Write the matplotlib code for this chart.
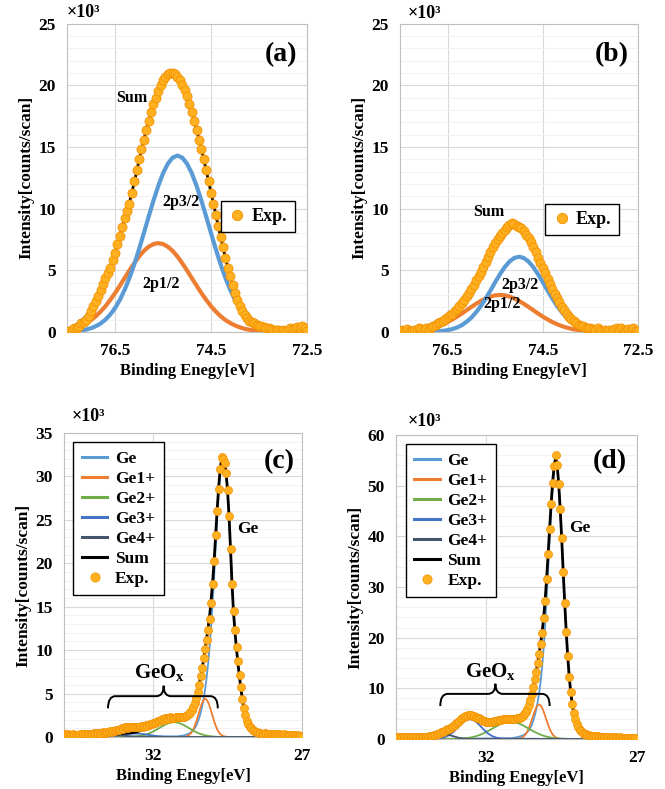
import numpy as np
import matplotlib
matplotlib.use("Agg")
import matplotlib.pyplot as plt
from matplotlib.path import Path
from matplotlib.patches import PathPatch

plt.rcParams['font.family'] = ['Liberation Serif', 'DejaVu Serif']
plt.rcParams['font.weight'] = 'bold'
plt.rcParams['mathtext.fontset'] = 'custom'
plt.rcParams['mathtext.rm'] = 'Liberation Serif:bold'
plt.rcParams['mathtext.it'] = 'Liberation Serif:bold'
plt.rcParams['mathtext.bf'] = 'Liberation Serif:bold'

C_BLUE = '#5B9BD5'
C_ORANGE = '#ED7D31'
C_GREEN = '#70AD47'
C_GE3 = '#4472C4'
C_GE4 = '#44546A'
EXP_FACE = '#FFB020'
EXP_EDGE = '#F29100'

# ---------------------------------------------------------------
# (a) / (b): 2p region, Exp on 77.45 -> 72.50 eV (0.05 eV step), fits on 0.1 eV grid
# ---------------------------------------------------------------
exp_a = [0.1, 0.2, 0.3, 0.35, 0.5, 0.7, 0.85, 1.0, 1.3, 1.7,
         2.1, 2.5, 2.9, 3.4, 3.9, 4.4, 4.8, 5.2, 5.8, 6.4,
         7.1, 7.8, 8.5, 9.2, 9.8, 10.4, 11.3, 12.2, 13.1, 14.0,
         14.8, 15.6, 16.4, 17.1, 17.8, 18.5, 19.0, 19.5, 20.0, 20.4,
         20.7, 20.9, 21.0, 21.0, 20.9, 20.7, 20.4, 20.0, 19.6, 19.1,
         18.5, 17.8, 17.1, 16.4, 15.6, 14.8, 14.0, 13.1, 12.2, 11.3,
         10.4, 9.5, 8.6, 7.7, 6.9, 6.0, 5.2, 4.5, 3.8, 3.2,
         2.6, 2.1, 1.7, 1.4, 1.1, 0.9, 0.8, 0.7, 0.6, 0.5,
         0.45, 0.4, 0.35, 0.3, 0.25, 0.2, 0.2, 0.15, 0.1, 0.15,
         0.1, 0.2, 0.3, 0.25, 0.35, 0.4, 0.3, 0.45, 0.3, 0.05]
p32_a = [0.05, 0.08, 0.13, 0.20, 0.31, 0.47, 0.69, 1.00, 1.41, 1.94,
         2.60, 3.42, 4.38, 5.48, 6.71, 8.01, 9.34, 10.64, 11.83, 12.86,
         13.64, 14.13, 14.30, 14.13, 13.64, 12.86, 11.83, 10.64, 9.34, 8.01,
         6.71, 5.48, 4.38, 3.42, 2.60, 1.94, 1.41, 1.00, 0.69, 0.47,
         0.31, 0.20, 0.13, 0.08, 0.05, 0.03]
p12_a = [0.26, 0.38, 0.53, 0.73, 0.97, 1.28, 1.66, 2.09, 2.60, 3.15,
         3.75, 4.37, 4.99, 5.58, 6.12, 6.57, 6.91, 7.13, 7.20, 7.13,
         6.91, 6.57, 6.12, 5.58, 4.99, 4.37, 3.75, 3.15, 2.60, 2.09,
         1.66, 1.28, 0.97, 0.73, 0.53, 0.38, 0.26, 0.18, 0.12, 0.08,
         0.05, 0.03, 0.02, 0.01, 0.01, 0.00]
sum_a = [0.35, 0.6, 0.9, 1.3, 1.8, 2.5, 3.4, 4.4, 5.3, 6.4,
         7.8, 9.2, 10.5, 12.1, 13.9, 15.6, 17.1, 18.4, 19.5, 20.3,
         20.8, 20.9, 20.6, 19.9, 19.0, 17.8, 16.4, 14.8, 13.1, 11.3,
         9.5, 7.7, 6.0, 4.5, 3.2, 2.2, 1.5, 1.0, 0.65, 0.4,
         0.25, 0.15, 0.1, 0.05, 0.03, 0.02]

exp_b = [0.2, 0.1, 0.25, 0.1, 0.05, 0.2, 0.15, 0.3, 0.25, 0.2,
         0.35, 0.2, 0.4, 0.5, 0.55, 0.7, 0.8, 0.9, 1.05, 1.2,
         1.35, 1.5, 1.7, 1.9, 2.1, 2.35, 2.6, 2.9, 3.2, 3.5,
         3.85, 4.2, 4.55, 4.9, 5.3, 5.7, 6.1, 6.5, 6.9, 7.2,
         7.55, 7.8, 8.05, 8.3, 8.5, 8.7, 8.8, 8.75, 8.6, 8.5,
         8.4, 8.2, 7.9, 7.6, 7.3, 6.9, 6.5, 6.0, 5.6, 5.2,
         4.75, 4.3, 3.9, 3.5, 3.1, 2.75, 2.4, 2.05, 1.75, 1.5,
         1.25, 1.05, 0.9, 0.75, 0.6, 0.5, 0.45, 0.35, 0.3, 0.35,
         0.25, 0.2, 0.3, 0.15, 0.1, 0.2, 0.05, 0.15, 0.1, 0.25,
         0.3, 0.15, 0.3, 0.2, 0.1, 0.25, 0.2, 0.3, 0.1, 0.05]
p32_b = [0.01, 0.02, 0.03, 0.05, 0.09, 0.15, 0.24, 0.37, 0.56, 0.83,
         1.17, 1.60, 2.12, 2.71, 3.36, 4.04, 4.68, 5.26, 5.71, 6.00,
         6.10,
         6.00, 5.71, 5.26, 4.68, 4.04, 3.36, 2.71, 2.12, 1.60, 1.17,
         0.83, 0.56, 0.37, 0.24, 0.15, 0.09, 0.05, 0.03, 0.02, 0.01]
p12_b = [0.19, 0.26, 0.36, 0.48, 0.63, 0.81, 1.02, 1.25, 1.50, 1.77,
         2.03, 2.29, 2.52, 2.72, 2.87, 2.97, 3.00, 2.97, 2.87, 2.72,
         2.52,
         2.29, 2.03, 1.77, 1.50, 1.25, 1.02, 0.81, 0.63, 0.48, 0.36,
         0.26, 0.19, 0.13, 0.09, 0.06, 0.04, 0.03, 0.02, 0.01, 0.01]
sum_b = [0.20, 0.28, 0.39, 0.53, 0.72, 0.96, 1.26, 1.62, 2.06, 2.60,
         3.20, 3.89, 4.64, 5.43, 6.23, 7.01, 7.68, 8.23, 8.58, 8.72,
         8.62,
         8.29, 7.74, 7.03, 6.18, 5.29, 4.38, 3.52, 2.75, 2.08, 1.53,
         1.09, 0.75, 0.50, 0.33, 0.21, 0.13, 0.08, 0.05, 0.03, 0.02]

# ---------------------------------------------------------------
# (c) / (d): 3d region, Exp on 35.00 -> 27.00 eV (0.05 eV step)
# ---------------------------------------------------------------
exp_c = [0.30, 0.35, 0.25, 0.30, 0.20, 0.25, 0.30, 0.20, 0.15, 0.25,
         0.20, 0.30, 0.25, 0.35, 0.30, 0.40, 0.35, 0.30, 0.40, 0.35,
         0.45, 0.40, 0.50, 0.45, 0.40, 0.50, 0.55, 0.45, 0.50, 0.60,
         0.55, 0.65, 0.60, 0.70, 0.65,
         0.75, 0.85, 0.80, 0.95, 1.00, 0.95, 1.10, 1.15, 1.05, 1.15,
         1.10, 1.20, 1.10, 1.15, 1.10, 1.20, 1.15, 1.25, 1.20, 1.30,
         1.35, 1.30, 1.40, 1.50, 1.45, 1.60,
         1.65, 1.75, 1.80, 1.90, 1.95, 2.05, 2.00, 2.15, 2.20, 2.10, 2.25, 2.20,
         2.15, 2.20, 2.25, 2.25, 2.30, 2.30, 2.30,
         2.30, 2.35, 2.40, 2.50, 2.65, 2.85, 3.10, 3.45, 3.90, 4.50,
         5.20, 6.00, 7.00, 8.00, 9.10, 10.1, 11.2, 12.3, 13.6, 15.4,
         17.6, 20.3, 23.2, 26.0, 28.6, 30.8, 32.2,
         32.0, 31.6, 30.4, 28.4, 25.4, 21.6, 17.6, 14.5, 12.3, 10.4,
         8.7, 7.1, 5.7, 4.4, 3.3, 2.5, 1.9, 1.5, 1.2, 1.0,
         0.85, 0.70, 0.60, 0.55,
         0.45, 0.50, 0.40, 0.35, 0.45, 0.30, 0.40, 0.35, 0.25, 0.35,
         0.30, 0.20, 0.30, 0.25, 0.35, 0.20, 0.25, 0.30, 0.20, 0.15,
         0.25, 0.20, 0.15, 0.25, 0.20, 0.10, 0.20, 0.15, 0.10, 0.05]
ge_c = [0.08, 0.10, 0.12, 0.14, 0.17, 0.21, 0.26, 0.32, 0.40, 0.50,
        0.64, 0.82, 1.05, 1.35, 1.75, 2.25, 2.85, 3.6, 4.5, 5.6,
        7.0, 8.6, 10.5, 12.9, 15.5,
        18.6, 22.0, 25.3, 28.2, 30.4, 31.8, 31.8, 31.4, 30.3, 28.3,
        25.3, 21.5, 17.5, 14.3, 12.0, 10.1, 8.4, 6.9, 5.5, 4.3,
        3.2, 2.4, 1.8, 1.35, 1.0, 0.75, 0.55, 0.40, 0.30, 0.22,
        0.16, 0.12, 0.09, 0.06]
ge1_c = [0.01, 0.03, 0.06, 0.12, 0.21, 0.36, 0.58, 0.89, 1.29, 1.79,
         2.36, 2.95, 3.51, 3.98, 4.29, 4.40, 4.29, 3.98, 3.51, 2.95,
         2.36, 1.79, 1.29, 0.89, 0.58, 0.36, 0.21, 0.12, 0.06, 0.03, 0.01]
ge2_c = [0.0, 0.01, 0.02, 0.03, 0.06, 0.10, 0.15, 0.23, 0.34, 0.47,
         0.64, 0.83, 1.03, 1.23, 1.42, 1.57, 1.67, 1.70, 1.67, 1.57,
         1.42, 1.23, 1.03, 0.83, 0.64, 0.47, 0.34, 0.23, 0.15, 0.10,
         0.06, 0.03, 0.02, 0.01]
ge3_c = [0.01, 0.02, 0.03, 0.05, 0.08, 0.12, 0.16, 0.22, 0.27, 0.32,
         0.36, 0.39, 0.40, 0.39, 0.36, 0.32, 0.27, 0.22, 0.16, 0.12,
         0.08, 0.05, 0.03, 0.02, 0.01]
ge4_c = [0.01, 0.02, 0.03, 0.04, 0.065, 0.09, 0.12, 0.15, 0.18, 0.19,
         0.20, 0.19, 0.18, 0.15, 0.12, 0.09, 0.065, 0.04, 0.03, 0.02, 0.01]
sum_c = [0.01, 0.01, 0.02, 0.02, 0.03, 0.03, 0.04, 0.05, 0.07, 0.09,
         0.10, 0.12, 0.14, 0.17, 0.18, 0.20, 0.23, 0.26, 0.27, 0.30,
         0.32, 0.34, 0.35, 0.38, 0.40, 0.40, 0.42, 0.45, 0.45, 0.46,
         0.47, 0.49, 0.50, 0.52,
         0.55, 0.60, 0.66, 0.72, 0.78, 0.85, 0.92, 1.00, 1.08, 1.16,
         1.24, 1.33, 1.42,
         1.50, 1.58, 1.66, 1.73, 1.80, 1.86, 1.91, 1.96, 2.00, 2.03,
         2.06, 2.08, 2.10, 2.12, 2.14, 2.16, 2.18, 2.20, 2.22, 2.25,
         2.29, 2.35, 2.45, 2.60, 2.82, 3.10, 3.47, 3.95, 4.55, 5.25,
         6.05, 6.95, 7.95, 9.05,
         10.19, 11.44, 12.70, 14.11, 15.92, 17.92, 20.43, 23.32, 26.22, 28.80,
         30.77, 32.02, 31.92, 31.46, 30.33, 28.31, 25.3, 21.5, 17.5, 14.3,
         12.0, 10.1, 8.4, 6.9, 5.5, 4.3, 3.2, 2.4, 1.8, 1.35,
         1.0, 0.75, 0.55, 0.40, 0.30, 0.22, 0.16, 0.12, 0.09, 0.06]

exp_d = [0.30, 0.35, 0.30, 0.25, 0.35, 0.30, 0.40, 0.30, 0.35, 0.25,
         0.30, 0.40, 0.35, 0.30, 0.40, 0.35, 0.45, 0.40, 0.35, 0.45,
         0.40, 0.45, 0.50, 0.55, 0.65, 0.75, 0.85, 0.95, 1.05, 1.20,
         1.30, 1.45, 1.60, 1.75, 1.90, 2.05, 2.20, 2.40, 2.60, 2.85,
         3.10, 3.35, 3.60, 3.85, 4.10, 4.30, 4.45, 4.60, 4.65, 4.70,
         4.65, 4.60, 4.50, 4.35, 4.20, 4.05, 3.90, 3.75, 3.60, 3.50,
         3.40, 3.35, 3.30, 3.35, 3.40, 3.45, 3.50, 3.60, 3.65, 3.70,
         3.80, 3.85, 3.90, 3.95, 3.95, 4.00, 4.00, 3.95, 4.00, 4.00,
         4.05, 4.10, 4.20, 4.35, 4.60, 4.95, 5.40, 6.00, 6.80, 7.70,
         8.80,
         10.2, 11.8, 13.3, 15.0, 16.8, 18.8, 21.0, 23.8, 27.3, 31.6,
         36.5, 41.5, 46.3, 50.6, 53.9, 56.0, 54.0, 50.4, 45.4, 39.6,
         33.0, 26.8, 21.2, 16.3, 12.3, 9.2, 6.9, 5.2, 3.9, 3.0,
         2.3, 1.8, 1.5, 1.25, 1.05, 0.9, 0.8, 0.7, 0.65, 0.6,
         0.5, 0.55, 0.45, 0.5, 0.4, 0.45, 0.35, 0.4, 0.3, 0.35,
         0.3, 0.25, 0.35, 0.3, 0.25, 0.3, 0.2, 0.25, 0.3, 0.2,
         0.25, 0.2, 0.15, 0.25, 0.2, 0.15, 0.2, 0.1, 0.15, 0.05]
ge_d = [0.15, 0.18, 0.22, 0.27, 0.33, 0.40, 0.48, 0.58, 0.70, 0.85,
        1.05, 1.30, 1.65, 2.1, 2.7, 3.5, 4.5, 5.7, 7.2, 9.0,
        11.3, 14.2, 17.8, 22.3, 27.6,
        33.4, 39.3, 44.8, 49.6, 53.2, 55.0, 53.7, 50.2, 45.3, 39.5,
        33.0, 26.8, 21.2, 16.3, 12.3, 9.2, 6.9, 5.2, 3.9, 2.9,
        2.2, 1.65, 1.25, 0.95, 0.72, 0.55, 0.42, 0.32, 0.24, 0.18,
        0.14, 0.10, 0.07, 0.05]
ge1_d = [0.02, 0.05, 0.10, 0.19, 0.33, 0.56, 0.90, 1.37, 2.00, 2.77,
         3.64, 4.56, 5.43, 6.15, 6.63, 6.80, 6.63, 6.15, 5.43, 4.56,
         3.64, 2.77, 2.00, 1.37, 0.90, 0.56, 0.33, 0.19, 0.10, 0.05, 0.02]
ge2_d = [0.0, 0.01, 0.01, 0.02, 0.04, 0.06, 0.10, 0.15, 0.22, 0.33,
         0.46, 0.63, 0.85, 1.11, 1.40, 1.72, 2.06, 2.40, 2.72, 3.00,
         3.22, 3.35, 3.40, 3.35, 3.22, 3.00, 2.72, 2.40, 2.06, 1.72,
         1.40, 1.11, 0.85, 0.63, 0.46, 0.33, 0.22, 0.15, 0.10, 0.06,
         0.04, 0.02, 0.01]
ge3_d = [0.06, 0.12, 0.24, 0.43, 0.71, 1.12, 1.64, 2.24, 2.86, 3.40,
         3.77, 3.90, 3.77, 3.40, 2.86, 2.24, 1.64, 1.12, 0.71, 0.43,
         0.24, 0.12, 0.06]
ge4_d = [0.01, 0.03, 0.06, 0.12, 0.22, 0.37, 0.55, 0.72, 0.85, 0.90,
         0.85, 0.72, 0.55, 0.37, 0.22, 0.12, 0.06, 0.03, 0.01]
sum_d = [0.01, 0.02, 0.03, 0.04, 0.06, 0.09, 0.12, 0.17, 0.23, 0.31,
         0.40, 0.52, 0.65, 0.80,
         0.88, 0.98, 1.08, 1.20, 1.33, 1.48, 1.63, 1.79, 1.95, 2.13,
         2.33, 2.56, 2.81, 3.07, 3.33, 3.58, 3.82, 4.03, 4.20, 4.32,
         4.39, 4.42, 4.40, 4.34, 4.24, 4.11, 3.96, 3.81, 3.66, 3.51,
         3.38, 3.26, 3.16, 3.09, 3.06, 3.07, 3.12, 3.18, 3.25, 3.32,
         3.39, 3.46, 3.53, 3.60, 3.66, 3.71, 3.74, 3.76, 3.77, 3.77,
         3.77, 3.78, 3.81, 3.86, 3.95, 4.10, 4.35, 4.70, 5.15, 5.75,
         6.55, 7.50, 8.60, 9.95,
         11.33, 13.10, 14.94, 16.78, 18.78, 21.09, 23.86, 27.40, 31.70, 36.56,
         41.63, 46.44, 50.72, 53.94,
         55.48, 54.01, 50.40, 45.43, 39.58, 33.05, 26.84, 21.23, 16.32, 12.31,
         9.21, 6.9, 5.2, 3.9, 2.9, 2.2, 1.65, 1.25, 0.95, 0.72,
         0.55, 0.42, 0.32, 0.24, 0.18, 0.14, 0.10, 0.07, 0.05]

FIT_C = (34.3, 28.3)  # fit window of the 3d spectra (components are 0 outside)


def grid(start, stop, vals):
    return np.linspace(start, stop, len(vals))


def padded(start, stop, vals, lo, hi):
    x = np.r_[lo, grid(start, stop, vals), hi]
    y = np.r_[0.0, vals, 0.0]
    return x, y


def style(ax, xlim, xticks, ymax, ystep, yminor):
    ax.set_xlim(*xlim)
    ax.set_ylim(0, ymax)
    ax.set_xticks(xticks)
    ax.set_yticks(np.arange(0, ymax + 0.01, ystep))
    ax.set_yticks(np.arange(0, ymax + 0.01, yminor), minor=True)
    ax.grid(True, which='major', color='#D9D9D9', lw=0.8)
    ax.grid(True, which='minor', axis='y', color='#F0F0F0', lw=0.6)
    ax.set_axisbelow(True)
    for s in ax.spines.values():
        s.set_color('#BFBFBF')
        s.set_linewidth(0.8)
    ax.tick_params(which='both', length=0, labelsize=12.5, pad=8)
    for lab in ax.get_xticklabels() + ax.get_yticklabels():
        lab.set_fontweight('bold')
    ax.set_xlabel('Binding Enegy[eV]', fontsize=12, fontweight='bold', labelpad=3)
    ax.set_ylabel('Intensity[counts/scan]', fontsize=12.5, fontweight='bold', labelpad=3)


def brace(ax, xl, xr, xt, y_bar, y_end, y_tip, r):
    verts = [(xl, y_end), (xl, y_bar), (xl - r, y_bar),
             (xt + r, y_bar), (xt, y_bar), (xt, y_tip),
             (xt, y_bar), (xt - r, y_bar),
             (xr + r, y_bar), (xr, y_bar), (xr, y_end)]
    codes = [Path.MOVETO, Path.CURVE3, Path.CURVE3,
             Path.LINETO, Path.CURVE3, Path.CURVE3,
             Path.CURVE3, Path.CURVE3,
             Path.LINETO, Path.CURVE3, Path.CURVE3]
    ax.add_patch(PathPatch(Path(verts, codes), fill=False, lw=1.4,
                           edgecolor='black', zorder=5))


fig = plt.figure(figsize=(6.65, 7.89), dpi=100)
ax_a = fig.add_axes([0.1008, 0.5792, 0.3609, 0.3910])
ax_b = fig.add_axes([0.6015, 0.5792, 0.3579, 0.3910])
ax_c = fig.add_axes([0.0962, 0.0659, 0.3579, 0.3853])
ax_d = fig.add_axes([0.5955, 0.0634, 0.3624, 0.3853])

# ---- (a) and (b)
for ax, exp, p32, p12, sm, fit_rng, lbl in [
        (ax_a, exp_a, p32_a, p12_a, sum_a, (77.4, 72.9), '(a)'),
        (ax_b, exp_b, p32_b, p12_b, sum_b, (77.0, 73.0), '(b)')]:
    xf = grid(*fit_rng, p32)
    ax.plot(xf, p12, color=C_ORANGE, lw=3, zorder=2)
    ax.plot(xf, p32, color=C_BLUE, lw=3, zorder=2)
    ax.plot(xf, sm, color='black', lw=2, zorder=3)
    ax.plot(grid(77.45, 72.5, exp), exp, 'o', ms=6.5, mfc=EXP_FACE, mec=EXP_EDGE,
            mew=0.6, zorder=4, label='Exp.')
    style(ax, (77.5, 72.5), [76.5, 74.5, 72.5], 25, 5, 1)
    ax.text(0.89, 0.90, lbl, transform=ax.transAxes, fontsize=20, fontweight='bold',
            ha='center', va='center')

ax_a.text(0.0, 1.037, '×10³', transform=ax_a.transAxes, fontsize=13, ha='left', va='center')
ax_b.text(0.034, 1.033, '×10³', transform=ax_b.transAxes, fontsize=13, ha='left', va='center')

ax_a.legend(loc='center', bbox_to_anchor=(0.795, 0.374), fontsize=13, fancybox=False,
            edgecolor='black', framealpha=1, handletextpad=0.3, borderpad=0.4,
            handlelength=1.0, markerscale=1.15).get_frame().set_linewidth(1.0)
ax_b.legend(loc='center', bbox_to_anchor=(0.765, 0.365), fontsize=13, fancybox=False,
            edgecolor='black', framealpha=1, handletextpad=0.3, borderpad=0.4,
            handlelength=1.0, markerscale=1.15).get_frame().set_linewidth(1.0)

ax_a.text(76.15, 19.0, 'Sum', fontsize=11.5, ha='center', va='center')
ax_a.text(75.13, 10.5, '2p3/2', fontsize=11.5, ha='center', va='center')
ax_a.text(75.55, 3.9, '2p1/2', fontsize=11.5, ha='center', va='center')
ax_b.text(75.64, 9.7, 'Sum', fontsize=11.5, ha='center', va='center')
ax_b.text(74.98, 3.8, '2p3/2', fontsize=11.5, ha='center', va='center')
ax_b.text(75.36, 2.3, '2p1/2', fontsize=11.5, ha='center', va='center')

# ---- (c) and (d)
panels_cd = [
    (ax_c, exp_c, ge_c, ge1_c, (ge2_c, 33.0, 29.7), (ge3_c, 33.8, 31.4), (ge4_c, 34.3, 32.3),
     sum_c, 35, 5, 1),
    (ax_d, exp_d, ge_d, ge1_d, (ge2_d, 33.4, 29.2), (ge3_d, 33.65, 31.45), (ge4_d, 34.3, 32.5),
     sum_d, 60, 10, 2),
]
for ax, exp, ge, ge1, g2, g3, g4, sm, ymax, ystep, yminor in panels_cd:
    lines = []
    lines += ax.plot(*padded(31.2, 28.3, ge, *FIT_C), color=C_BLUE, lw=1.3, zorder=2, label='Ge')
    lines += ax.plot(*padded(31.0, 29.5, ge1, *FIT_C), color=C_ORANGE, lw=1.3, zorder=2, label='Ge1+')
    lines += ax.plot(*padded(g2[1], g2[2], g2[0], *FIT_C), color=C_GREEN, lw=1.3, zorder=2, label='Ge2+')
    lines += ax.plot(*padded(g3[1], g3[2], g3[0], *FIT_C), color=C_GE3, lw=1.3, zorder=2, label='Ge3+')
    lines += ax.plot(*padded(g4[1], g4[2], g4[0], *FIT_C), color=C_GE4, lw=1.3, zorder=2, label='Ge4+')
    lines += ax.plot(grid(34.3, 28.3, sm), sm, color='black', lw=2, zorder=3, label='Sum')
    lines += ax.plot(grid(35.0, 27.0, exp), exp, 'o', ms=5.8, mfc=EXP_FACE, mec=EXP_EDGE,
                     mew=0.5, zorder=4, label='Exp.')
    style(ax, (35, 27), [32, 27], ymax, ystep, yminor)
    leg = ax.legend(handles=lines, loc='upper left', bbox_to_anchor=(0.04, 0.97),
                    borderaxespad=0, fontsize=12.5, fancybox=False, edgecolor='black',
                    framealpha=1, labelspacing=0.22, handlelength=1.45, handletextpad=0.45,
                    borderpad=0.5, markerscale=1.15)
    leg.get_frame().set_linewidth(1.0)
    for h in leg.get_lines()[:6]:
        h.set_linewidth(2.2)

ax_c.text(0.905, 0.906, '(c)', transform=ax_c.transAxes, fontsize=20, fontweight='bold',
          ha='center', va='center')
ax_d.text(0.888, 0.912, '(d)', transform=ax_d.transAxes, fontsize=20, fontweight='bold',
          ha='center', va='center')
ax_c.text(0.032, 1.054, '×10³', transform=ax_c.transAxes, fontsize=13, ha='left', va='center')
ax_d.text(0.05, 1.044, '×10³', transform=ax_d.transAxes, fontsize=13, ha='left', va='center')

ax_c.text(28.83, 24.0, 'Ge', fontsize=12.5, ha='center', va='center')
ax_d.text(28.91, 41.6, 'Ge', fontsize=12.5, ha='center', va='center')

ax_c.text(31.8, 7.4, r'GeO$_\mathrm{x}$', fontsize=15, ha='center', va='center')
ax_d.text(31.85, 13.3, r'GeO$_\mathrm{x}$', fontsize=15, ha='center', va='center')
brace(ax_c, 33.52, 29.83, 31.65, 4.7, 3.3, 5.9, 0.25)
brace(ax_d, 33.53, 29.90, 31.70, 8.9, 6.5, 10.9, 0.25)

fig.savefig('out.png', dpi=100)
